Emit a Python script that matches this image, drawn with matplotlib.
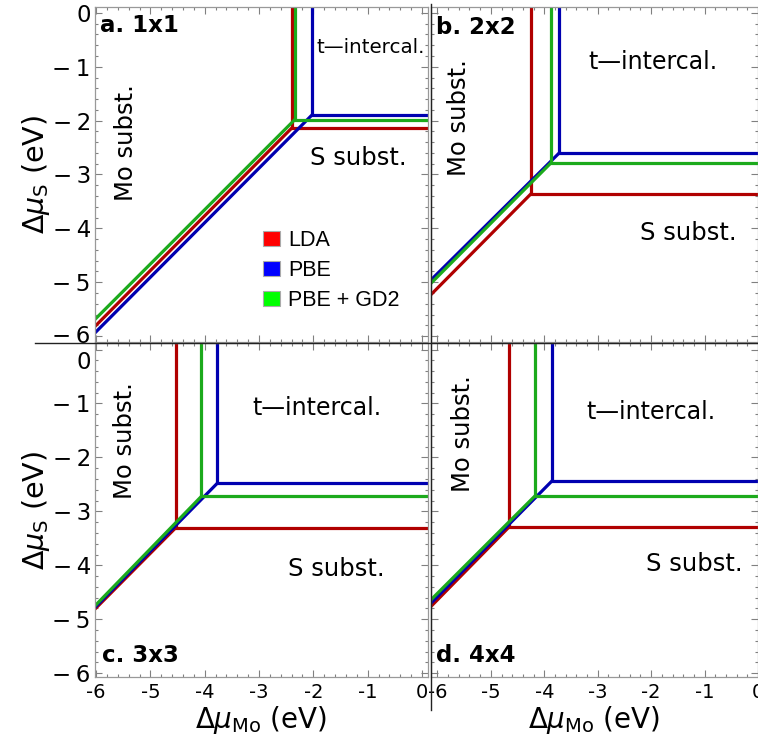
import matplotlib
matplotlib.use("Agg")
import matplotlib.pyplot as plt
from matplotlib.ticker import MultipleLocator, FixedLocator, FixedFormatter
from matplotlib.patches import Patch
from matplotlib.lines import Line2D
from matplotlib.transforms import ScaledTranslation

plt.rcParams['font.family'] = ['DejaVu Sans']
plt.rcParams['mathtext.fontset'] = 'dejavusans'

panel_titles = ["a. 1x1", "b. 2x2", "c. 3x3", "d. 4x4"]
methods = ["LDA", "PBE", "PBE + GD2"]
line_colors = ["#b00000", "#0000b0", "#1caa1c"]
legend_colors = ["#ff0000", "#0000ff", "#00ff00"]

# triple point (x, y) and diagonal value at x = -6, order LDA, PBE, PBE+GD2
corner_x_1x1 = [-2.40, -2.03, -2.34]
corner_y_1x1 = [-2.14, -1.90, -1.98]
left_y_1x1 = [-5.80, -5.92, -5.67]

corner_x_2x2 = [-4.25, -3.72, -3.88]
corner_y_2x2 = [-3.36, -2.60, -2.79]
left_y_2x2 = [-5.11, -4.84, -4.90]

corner_x_3x3 = [-4.53, -3.77, -4.06]
corner_y_3x3 = [-3.30, -2.48, -2.72]
left_y_3x3 = [-4.79, -4.76, -4.73]

corner_x_4x4 = [-4.66, -3.86, -4.18]
corner_y_4x4 = [-3.29, -2.44, -2.72]
left_y_4x4 = [-4.64, -4.58, -4.52]

x_ticks = [-6, -5, -4, -3, -2, -1, 0]
x_tick_labels = ["-6", "-5", "-4", "-3", "-2", "-1", "0"]
y_ticks = [-6, -5, -4, -3, -2, -1, 0]
y_tick_labels = ["\u2212\u20096", "\u2212\u20095", "\u2212\u20094", "\u2212\u20093",
                 "\u2212\u20092", "\u2212\u20091", "0"]

region_names = ["t\u2014intercal.", "S subst.", "Mo subst."]

fig = plt.figure(figsize=(7.58, 7.43), dpi=100)

# axes boxes in figure fraction
boxes = [
    [0.1253, 0.5397, 0.4393, 0.4509],
    [0.5686, 0.5397, 0.4314, 0.4509],
    [0.1253, 0.0888, 0.4393, 0.4495],
    [0.5686, 0.0888, 0.4314, 0.4495],
]
xlims = [(-6.02, 0.11), (-6.12, 0.0), (-6.02, 0.11), (-6.12, 0.0)]
ylims = [(-6.11, 0.11), (-6.11, 0.11), (-6.07, 0.12), (-6.07, 0.12)]

all_cx = [corner_x_1x1, corner_x_2x2, corner_x_3x3, corner_x_4x4]
all_cy = [corner_y_1x1, corner_y_2x2, corner_y_3x3, corner_y_4x4]
all_ly = [left_y_1x1, left_y_2x2, left_y_3x3, left_y_4x4]

# label positions (data coords) for t-intercal., S subst., Mo subst.
label_pos = [
    [(-0.94, -0.65), (-1.17, -2.70), (-5.45, -2.40)],
    [(-1.96, -0.92), (-1.30, -4.09), (-5.60, -1.94)],
    [(-1.94, -1.08), (-1.57, -4.06), (-5.47, -1.68)],
    [(-2.01, -1.15), (-1.19, -3.97), (-5.53, -1.55)],
]
title_pos = [(0.014, 0.980, 'top'), (0.016, 0.972, 'top'),
             (0.020, 0.030, 'bottom'), (0.016, 0.030, 'bottom')]

for i in range(4):
    ax = fig.add_axes(boxes[i])
    x0, x1 = xlims[i]
    y0, y1 = ylims[i]
    for j in range(3):
        cx = all_cx[i][j]
        cy = all_cy[i][j]
        ly = all_ly[i][j]
        slope = (cy - ly) / (cx + 6)
        ax.plot([cx, cx, x1 + 0.5], [y1 + 0.5, cy, cy], color=line_colors[j],
                lw=2.3, solid_joinstyle='miter')
        ax.plot([x0 - 0.5, cx], [ly + slope * (x0 - 0.5 + 6), cy],
                color=line_colors[j], lw=2.3)
    ax.set_xlim(x0, x1)
    ax.set_ylim(y0, y1)

    ax.xaxis.set_major_locator(FixedLocator(x_ticks))
    ax.yaxis.set_major_locator(FixedLocator(y_ticks))
    ax.xaxis.set_minor_locator(MultipleLocator(0.2))
    ax.yaxis.set_minor_locator(MultipleLocator(0.2))
    ax.tick_params(which='both', direction='in', top=True, right=True,
                   color='#808080', width=0.8)
    ax.tick_params(which='major', length=5)
    ax.tick_params(which='minor', length=2.5)
    for sp in ax.spines.values():
        sp.set_color('#999999')
        sp.set_linewidth(0.9)

    if i >= 2:
        ax.xaxis.set_major_formatter(FixedFormatter(x_tick_labels))
        ax.tick_params(axis='x', labelsize=14, pad=4)
        ax.set_xlabel(r'$\Delta\mu_{\mathrm{Mo}}$ (eV)', fontsize=20, labelpad=2)
    else:
        ax.set_xticklabels([])
    if i % 2 == 0:
        ax.yaxis.set_major_formatter(FixedFormatter(y_tick_labels))
        ax.tick_params(axis='y', labelsize=16.5, pad=3)
        ax.set_ylabel(r'$\Delta\mu_{\mathrm{S}}$ (eV)', fontsize=20.5, labelpad=0)
        labs = ax.get_yticklabels()
        if i == 2:
            # top label of the lower panel sits a little lower, as in the original
            labs[-1].set_transform(labs[-1].get_transform() +
                                   ScaledTranslation(0, -0.10, fig.dpi_scale_trans))
        else:
            labs[0].set_transform(labs[0].get_transform() +
                                  ScaledTranslation(0, 0.02, fig.dpi_scale_trans))
    else:
        ax.set_yticklabels([])

    tx, ty, tva = title_pos[i]
    ax.text(tx, ty, panel_titles[i], transform=ax.transAxes, fontsize=16.5,
            fontweight='bold', ha='left', va=tva)

    (ax1, ay1), (ax2, ay2), (ax3, ay3) = label_pos[i]
    ax.text(ax1, ay1, region_names[0], fontsize=14.3 if i == 0 else 17,
            ha='center', va='center')
    ax.text(ax2, ay2, region_names[1], fontsize=17.5, ha='center', va='center')
    ax.text(ax3, ay3, region_names[2], fontsize=17.5, ha='center', va='center',
            rotation=90)

    if i == 0:
        handles = [Patch(facecolor=legend_colors[k], edgecolor='#aaaaaa', lw=0.8)
                   for k in range(3)]
        ax.legend(handles, methods, loc='upper left', bbox_to_anchor=(0.505, 0.335),
                  frameon=False, prop={'family': 'Liberation Sans', 'size': 15.5},
                  handlelength=0.8, handleheight=0.7, handletextpad=0.35,
                  labelspacing=0.42, borderpad=0, borderaxespad=0)

# dark separator lines of the grid
fig.add_artist(Line2D([0.046, 1.0], [0.5384, 0.5384], color='#222222', lw=1.0))
fig.add_artist(Line2D([0.5680, 0.5680], [0.044, 0.995], color='#222222', lw=1.0))

fig.savefig("out.png", dpi=100)
